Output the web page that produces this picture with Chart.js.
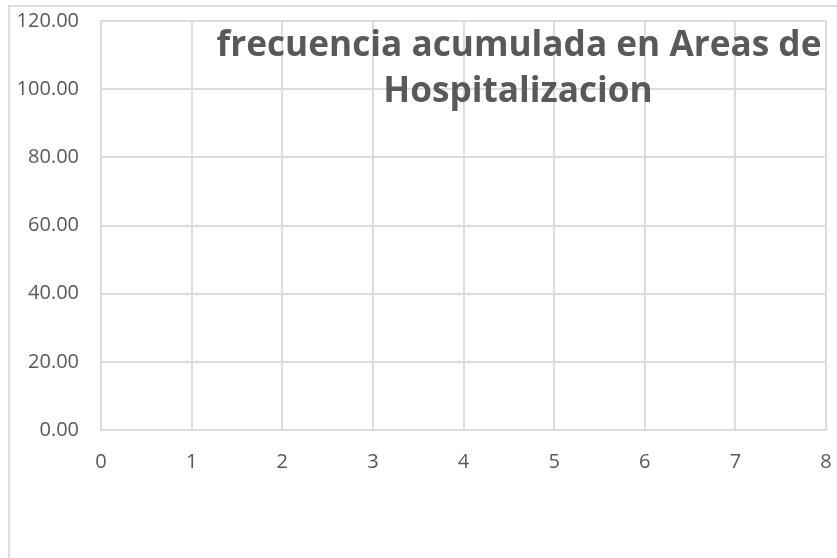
<!DOCTYPE html>
<html>
<head>
<meta charset="utf-8">
<script src="https://cdn.jsdelivr.net/npm/chart.js@4/dist/chart.umd.min.js"></script>
<style>
  html, body { margin: 0; padding: 0; background: #ffffff; }
  #wrap { width: 837px; height: 558px; position: relative; }
</style>
</head>
<body>
<div id="wrap"><canvas id="frecuenciaChart"></canvas></div>
<script>
// Datos del gráfico (la serie está vacía en el original)
const categorias = [];
const frecuenciaAcumulada = [];
const tituloLineas = ['frecuencia acumulada en Areas de', 'Hospitalizacion'];
const ejeX = { min: 0, max: 8, paso: 1 };
const ejeY = { min: 0, max: 120, paso: 20 };

const grisTexto = '#595959';
const grisLinea = '#dcdcdc';

// Borde exterior del área del gráfico
const bordeExterior = {
    id: 'bordeExterior',
    beforeDraw(chart) {
        const ctx = chart.ctx;
        ctx.save();
        ctx.strokeStyle = grisLinea;
        ctx.lineWidth = 2;
        ctx.strokeRect(9, 6, 1000, 1000);
        ctx.restore();
    }
};

// Título superpuesto sobre la cuadrícula, como en el original
const tituloSuperpuesto = {
    id: 'tituloSuperpuesto',
    afterDraw(chart) {
        const ctx = chart.ctx;
        ctx.save();
        let size = 32;
        ctx.font = `bold ${size}px "Open Sans"`;
        const ancho = ctx.measureText(tituloLineas[0]).width;
        size = size * 605 / ancho;
        ctx.font = `bold ${size}px "Open Sans"`;
        ctx.fillStyle = grisTexto;
        ctx.textAlign = 'center';
        ctx.textBaseline = 'middle';
        ctx.fillText(tituloLineas[0], 519, 46);
        ctx.fillText(tituloLineas[1], 518, 92);
        ctx.restore();
    }
};

const ctx = document.getElementById('frecuenciaChart').getContext('2d');

const chart = new Chart(ctx, {
    type: 'scatter',
    data: {
        labels: categorias,
        datasets: [{
            label: 'frecuencia acumulada',
            data: frecuenciaAcumulada,
            borderColor: '#4472c4',
            backgroundColor: '#4472c4',
            showLine: true
        }]
    },
    options: {
        responsive: true,
        maintainAspectRatio: false,
        animation: false,
        layout: {
            padding: { top: 21, right: 11, left: 0, bottom: 0 }
        },
        plugins: {
            legend: { display: false },
            title: { display: false },
            tooltip: { enabled: false }
        },
        scales: {
            x: {
                type: 'linear',
                min: ejeX.min,
                max: ejeX.max,
                afterFit(scale) {
                    scale.height = 128;
                    scale.paddingLeft = 0;
                    scale.paddingRight = 0;
                },
                ticks: {
                    stepSize: ejeX.paso,
                    color: grisTexto,
                    padding: 20,
                    maxRotation: 0,
                    font: { family: '"Open Sans"', size: 20 }
                },
                grid: { color: grisLinea, lineWidth: 2, drawTicks: false },
                border: { display: true, color: grisLinea, width: 2 }
            },
            y: {
                min: ejeY.min,
                max: ejeY.max,
                afterFit(scale) {
                    scale.width = 101;
                    scale.paddingTop = 0;
                    scale.paddingBottom = 0;
                },
                ticks: {
                    stepSize: ejeY.paso,
                    color: grisTexto,
                    padding: 22,
                    font: { family: '"Open Sans"', size: 20 },
                    callback: (v) => Number(v).toFixed(2)
                },
                grid: { color: grisLinea, lineWidth: 2, drawTicks: false },
                border: { display: true, color: grisLinea, width: 2 }
            }
        }
    },
    plugins: [bordeExterior, tituloSuperpuesto]
});
</script>
</body>
</html>
